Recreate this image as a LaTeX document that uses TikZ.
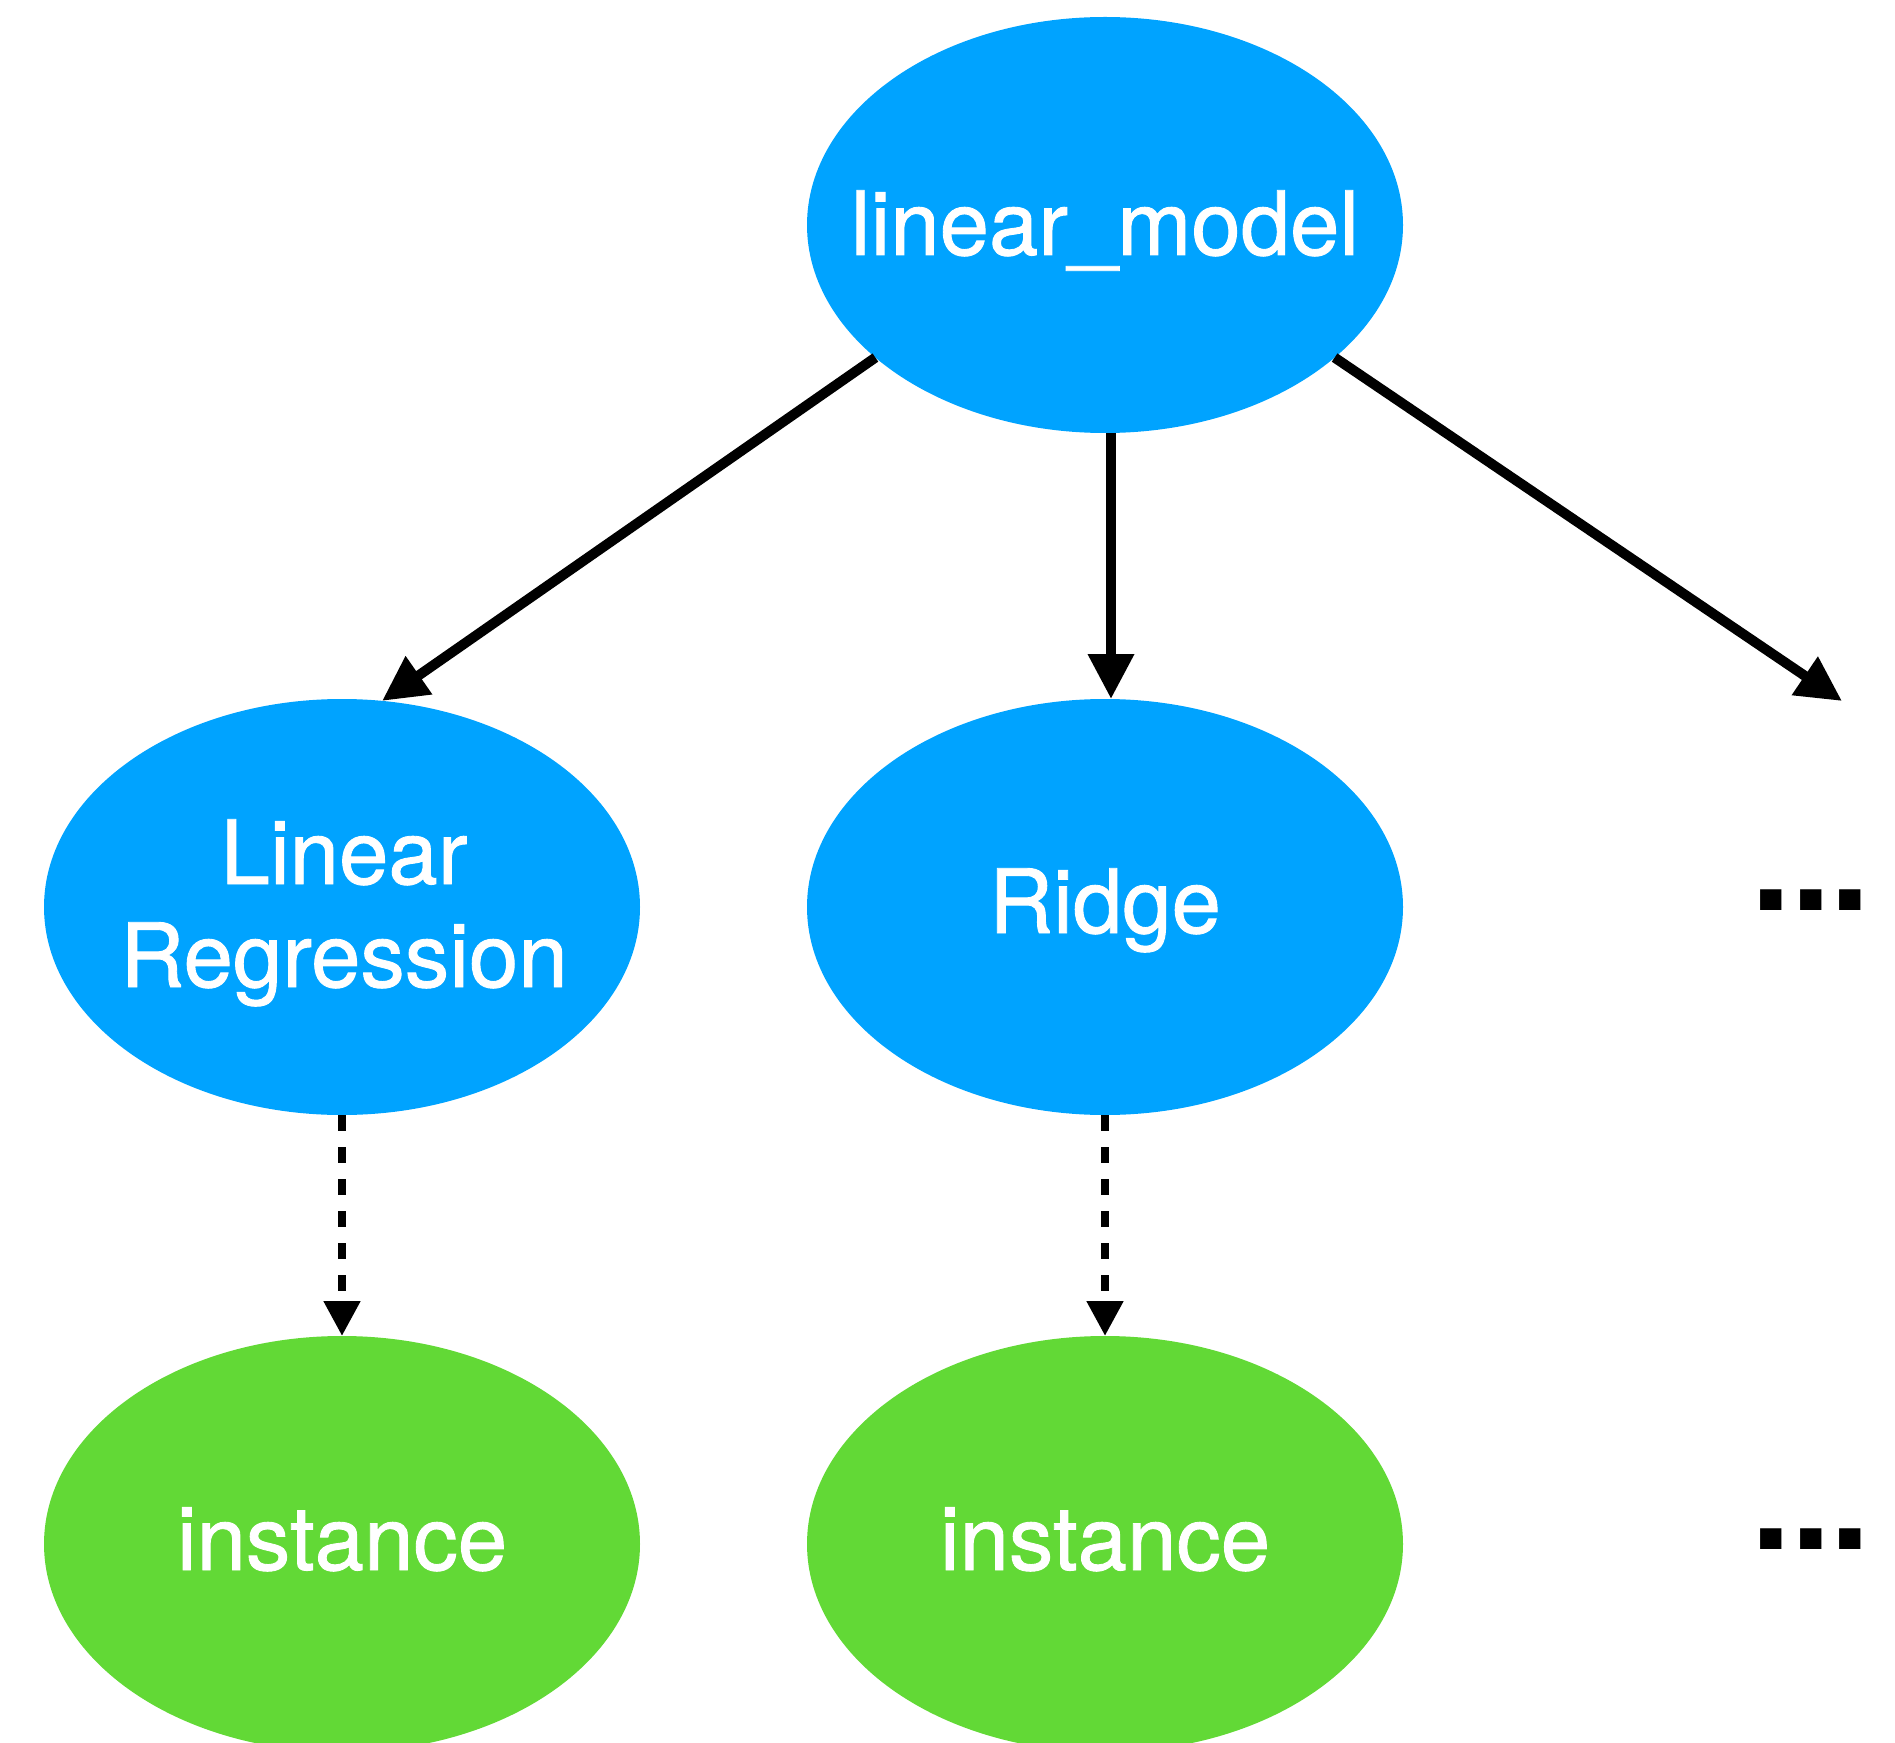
\documentclass[tikz,border=0pt]{standalone}
\usepackage{fontspec}
\setmainfont{TeX Gyre Heros}
\newfontfamily\lblfont[FakeBold=1]{TeX Gyre Heros}
\usetikzlibrary{arrows.meta,shapes.geometric}
\definecolor{nodeblue}{RGB}{0,163,255}
\definecolor{nodegreen}{RGB}{98,217,54}
\tikzset{
  ell/.style={ellipse, draw=none, inner sep=0pt, outer sep=0pt,
    minimum width=149pt, minimum height=104pt},
  blueell/.style={ell, fill=nodeblue},
  greenell/.style={ell, fill=nodegreen},
  lbl/.style={anchor=base, inner sep=0pt, text=white,
    font=\lblfont\fontsize{22.2}{26}\selectfont},
  dotslbl/.style={anchor=base, inner sep=0pt, text=black,
    font=\fontsize{35.5}{40}\selectfont\bfseries},
  solidedge/.style={line width=2.5pt, -{Triangle[length=11.25pt,width=11pt]}},
  dashededge/.style={line width=2pt, dash pattern=on 4pt off 4pt,
    -{Triangle[length=8.75pt,width=8.75pt]}}
}
\begin{document}
\begin{tikzpicture}[x=0.25pt,y=-0.25pt]
\useasboundingbox (0,0) rectangle (1895,1743);
% nodes
\node[blueell] (top) at (1105,225) {};
\node[lbl] (toptxt) at (1105,255) {linear\_model};
\node[blueell] (lr) at (342,907) {};
\node[lbl] (lrtxta) at (344,884) {Linear};
\node[lbl] (lrtxtb) at (344,987) {Regression};
\node[blueell] (ridge) at (1105,907) {};
\node[lbl] (ridgetxt) at (1105,933) {Ridge};
\node[greenell] (lri) at (342,1544) {};
\node[lbl] (lritxt) at (342,1570) {instance};
\node[greenell] (ridgei) at (1105,1544) {};
\node[lbl] (ridgeitxt) at (1105,1570) {instance};
\node[dotslbl] (dotsa) at (1811,910) {...};
\node[dotslbl] (dotsb) at (1811,1549) {...};
\coordinate (dotsin) at (1842,701);
% edges
\draw[solidedge] (top.210.7) -- (lr.79.2);
\draw[solidedge] ([xshift=1.5pt]top.south) -- ([xshift=1.5pt]ridge.north);
\draw[solidedge] (top.330.8) -- (dotsin);
\draw[dashededge] (lr.south) -- (lri.north);
\draw[dashededge] (ridge.south) -- (ridgei.north);
\end{tikzpicture}
\end{document}
